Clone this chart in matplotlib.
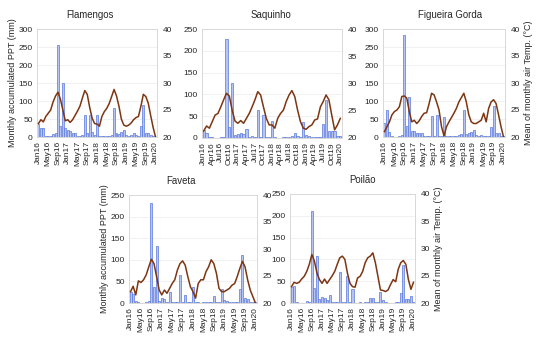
import matplotlib
matplotlib.use('Agg')
import matplotlib.pyplot as plt
import numpy as np

plt.rcParams['font.family'] = ['Liberation Sans', 'DejaVu Sans']

# month labels Jan16 .. Jan20
month_abbr = ['Jan', 'Feb', 'Mar', 'Apr', 'May', 'Jun', 'Jul', 'Aug', 'Sep', 'Oct', 'Nov', 'Dec']
months = [m + str(y) for y in range(16, 21) for m in month_abbr][:49]

# monthly accumulated precipitation (mm) and mean monthly air temperature (C)
flamengos_ppt = [35, 25, 25, 3, 2, 2, 8, 10, 255, 30, 150, 25,
                 20, 18, 12, 12, 2, 2, 5, 60, 10, 60, 15, 5,
                 60, 3, 2, 3, 4, 3, 5, 80, 10, 8, 15, 20,
                 5, 3, 5, 10, 5, 3, 30, 90, 12, 12, 5, 2, 0]
flamengos_temp = [22.5, 23.2, 22.8, 23.8, 24.4, 25.0, 26.5, 27.6, 28.3, 27.0, 25.0, 23.0,
                  23.2, 22.7, 23.2, 24.0, 24.8, 25.7, 27.2, 28.6, 27.9, 25.5, 23.5, 22.5,
                  22.4, 22.0, 23.8, 24.7, 25.3, 26.2, 27.5, 28.8, 27.6, 25.7, 23.3, 22.2,
                  22.0, 22.2, 22.6, 23.2, 23.6, 23.8, 25.7, 27.9, 27.5, 26.3, 24.0, 21.8, 20.0]

saquinho_ppt = [18, 12, 3, 2, 1, 1, 2, 3, 228, 25, 125, 7,
                9, 12, 10, 20, 2, 5, 2, 65, 2, 53, 3, 2,
                38, 2, 1, 1, 2, 2, 3, 5, 12, 5, 3, 37,
                8, 5, 3, 2, 2, 3, 32, 88, 15, 15, 17, 5, 5]
saquinho_temp = [21.3, 22.2, 21.8, 23.0, 24.2, 24.5, 25.7, 27.0, 28.2, 27.7, 25.1, 23.1,
                 22.7, 23.2, 22.7, 23.6, 24.5, 25.7, 27.0, 28.5, 27.9, 25.7, 23.6, 22.4,
                 22.4, 21.8, 23.6, 24.5, 25.1, 26.7, 27.9, 28.7, 27.6, 25.1, 23.0, 21.8,
                 21.6, 22.1, 22.4, 23.3, 23.5, 25.7, 26.7, 27.9, 27.0, 24.2, 21.5, 22.4, 23.6]

figueira_ppt = [40, 75, 15, 2, 1, 1, 2, 5, 283, 30, 112, 18,
                18, 10, 12, 12, 2, 2, 3, 58, 3, 60, 3, 2,
                55, 3, 2, 2, 3, 2, 5, 8, 75, 8, 10, 15,
                20, 5, 3, 5, 3, 2, 3, 28, 85, 12, 10, 3, 2]
figueira_temp = [21.0, 21.9, 22.8, 24.1, 24.7, 25.0, 25.6, 27.5, 27.6, 27.2, 24.7, 22.8,
                 23.1, 22.5, 23.0, 23.8, 24.4, 24.5, 26.2, 28.1, 27.8, 26.5, 25.0, 21.9,
                 20.2, 21.9, 22.8, 23.6, 24.4, 25.3, 26.5, 27.3, 28.1, 26.5, 24.1, 22.8,
                 22.5, 22.5, 22.8, 23.1, 24.4, 22.8, 25.3, 26.5, 26.9, 26.2, 24.1, 21.9, 20.0]

faveta_ppt = [25, 20, 5, 2, 1, 1, 2, 5, 232, 38, 132, 5,
              11, 10, 3, 25, 2, 2, 3, 65, 3, 18, 2, 2,
              36, 2, 2, 1, 2, 2, 3, 3, 16, 3, 2, 33,
              8, 5, 3, 2, 2, 2, 32, 112, 12, 10, 3, 3, 2]
faveta_temp = [22.1, 23.1, 21.5, 24.1, 23.8, 24.3, 25.2, 26.7, 28.1, 27.3, 24.9, 22.4,
               21.5, 22.4, 21.8, 22.7, 23.6, 24.3, 26.1, 27.3, 27.8, 27.0, 24.9, 23.0,
               22.1, 20.9, 23.6, 24.3, 24.3, 25.8, 26.7, 28.0, 27.3, 25.5, 22.7, 22.1,
               22.1, 22.4, 22.7, 23.3, 23.6, 24.9, 26.4, 27.7, 26.7, 24.3, 22.4, 21.2, 20.0]

poilao_ppt = [36, 38, 3, 1, 1, 1, 5, 2, 212, 35, 108, 10,
              14, 12, 8, 18, 2, 2, 2, 70, 2, 2, 62, 2,
              33, 1, 1, 2, 1, 2, 2, 11, 12, 3, 2, 25,
              6, 2, 1, 1, 1, 2, 3, 22, 88, 10, 10, 15, 2]
poilao_temp = [23.0, 23.8, 23.6, 23.8, 24.4, 24.9, 25.8, 27.1, 28.9, 27.7, 25.5, 24.3,
               23.6, 24.4, 23.6, 24.3, 25.0, 25.8, 27.1, 28.3, 28.6, 28.0, 25.5, 23.6,
               23.0, 22.9, 24.6, 24.9, 25.8, 27.4, 28.3, 28.6, 29.2, 27.4, 24.9, 22.4,
               22.3, 22.1, 22.4, 23.4, 24.3, 23.9, 26.2, 27.4, 27.8, 27.1, 24.3, 22.5, 23.8]

fig = plt.figure(figsize=(5.5, 3.42), dpi=100)
W, H = 550.0, 342.0

txt = '#262626'


def panel(px, title, ppt, temp, ymax, step, left_lab=None, right_lab=None, title_x=None):
    x0, y0, x1, y1 = px
    ax = fig.add_axes([x0 / W, 1 - y1 / H, (x1 - x0) / W, (y1 - y0) / H])
    x = np.arange(len(ppt))
    ax.bar(x, ppt, width=0.8, color='#b7c4f2', edgecolor='#5878de', linewidth=0.5, zorder=2)
    ax.set_xlim(-0.6, len(ppt) - 0.4)
    ax.set_ylim(0, ymax)
    ax.set_yticks(range(0, ymax + 1, 50))
    ax.set_xticks(x[::step])
    ax.set_xticklabels(months[::step], rotation=90, fontsize=5.6, color=txt)
    ax.grid(axis='y', color='#ececec', linewidth=0.5)
    ax.set_axisbelow(True)
    ax.tick_params(length=0, labelsize=6, colors=txt, pad=3)
    for s in ax.spines.values():
        s.set_color('#d9d9d9')
        s.set_linewidth(0.6)
    ax2 = ax.twinx()
    ax2.plot(x, temp, color='#7d3512', linewidth=1.1, zorder=3)
    ax2.set_ylim(20, 40)
    ax2.set_yticks(range(20, 41, 5))
    ax2.tick_params(length=0, labelsize=6, colors=txt, pad=4)
    for s in ax2.spines.values():
        s.set_color('#d9d9d9')
        s.set_linewidth(0.6)
    if left_lab:
        ax.set_ylabel(left_lab, fontsize=6.5, color=txt, labelpad=1)
    if right_lab:
        ax2.set_ylabel(right_lab, fontsize=6.5, color=txt, labelpad=3)
    tx = title_x if title_x else (x0 + x1) / 2
    fig.text(tx / W, 1 - (y0 - 14) / H, title, fontsize=6.9, ha='center', va='center', color=txt)
    return ax


ppt_lab = 'Monthly accumulated PPT (mm)'
temp_lab = 'Mean of monthly air Temp. (°C)'

panel((37, 29, 157, 137), 'Flamengos', flamengos_ppt, flamengos_temp, 300, 4, left_lab=ppt_lab, title_x=90)
panel((202, 29, 342, 138), 'Saquinho', saquinho_ppt, saquinho_temp, 250, 3, title_x=271)
panel((383, 29, 505, 137), 'Figueira Gorda', figueira_ppt, figueira_temp, 300, 4, right_lab=temp_lab, title_x=450)
panel((129, 195, 257, 303), 'Faveta', faveta_ppt, faveta_temp, 250, 4, left_lab=ppt_lab, title_x=181)
panel((290, 194, 415, 303), 'Poilão', poilao_ppt, poilao_temp, 250, 4, right_lab=temp_lab, title_x=362)

fig.savefig('out.png', dpi=100)
